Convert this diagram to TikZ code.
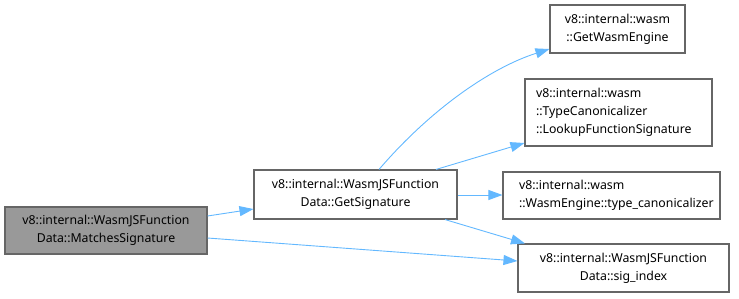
\documentclass[tikz,border=0pt]{standalone}
\usepackage{fontspec}
\setmainfont{Noto Sans}
\usetikzlibrary{arrows.meta}
\definecolor{edgeblue}{HTML}{63B8FF}
\definecolor{boxline}{HTML}{666666}
\definecolor{curfill}{HTML}{999999}
\begin{document}
\begin{tikzpicture}[x=1pt,y=-1pt,
  fn/.style={draw=boxline,line width=1.1pt,fill=white,inner sep=0pt,
    font=\fontsize{12.3}{18}\selectfont},
  cur/.style={fn,fill=curfill},
  call/.style={draw=edgeblue,line width=0.9pt,
    -{Triangle[length=14pt,width=10pt]}}]
\useasboundingbox (0,0) rectangle (739,298);

% functions
\node[cur,minimum width=202pt,minimum height=47pt,align=center] (A) at (106,230.5)
  {v8::internal::WasmJSFunction\\Data::MatchesSignature};
\node[fn,minimum width=203pt,minimum height=49pt,align=center] (B) at (355.5,194.5)
  {v8::internal::WasmJSFunction\\Data::GetSignature};
\node[fn,minimum width=135pt,minimum height=48pt,align=center] (C) at (617.5,29)
  {v8::internal::wasm\\::GetWasmEngine};
\node[fn,minimum width=187pt,minimum height=67pt,align=left,text width=165pt] (D) at (618.5,112.5)
  {v8::internal::wasm\\::TypeCanonicalizer\\::LookupFunctionSignature};
\node[fn,minimum width=217pt,minimum height=47pt,align=left,text width=185pt] (E) at (611.5,195.5)
  {v8::internal::wasm\\::WasmEngine::type\_canonicalizer};
\node[fn,minimum width=211pt,minimum height=48pt,align=center] (F) at (623.5,268)
  {v8::internal::WasmJSFunction\\Data::sig\_index};

% calls
\draw[call] ([yshift=14.5pt]A.east) -- ([yshift=-14.5pt]B.west);
\draw[call] ([yshift=-7.5pt]A.east) -- ([yshift=7pt]F.west);
\draw[call] ([xshift=23.5pt]B.north) .. controls (430,110) and (490,68) .. ([yshift=-20pt]C.west);
\draw[call] ([xshift=80.5pt]B.north) -- ([yshift=-30.5pt]D.west);
\draw[call] ([yshift=-0.5pt]B.east) -- ([yshift=0.5pt]E.west);
\draw[call] ([xshift=89.5pt]B.south) -- ([xshift=-98.5pt]F.north);
\end{tikzpicture}
\end{document}
